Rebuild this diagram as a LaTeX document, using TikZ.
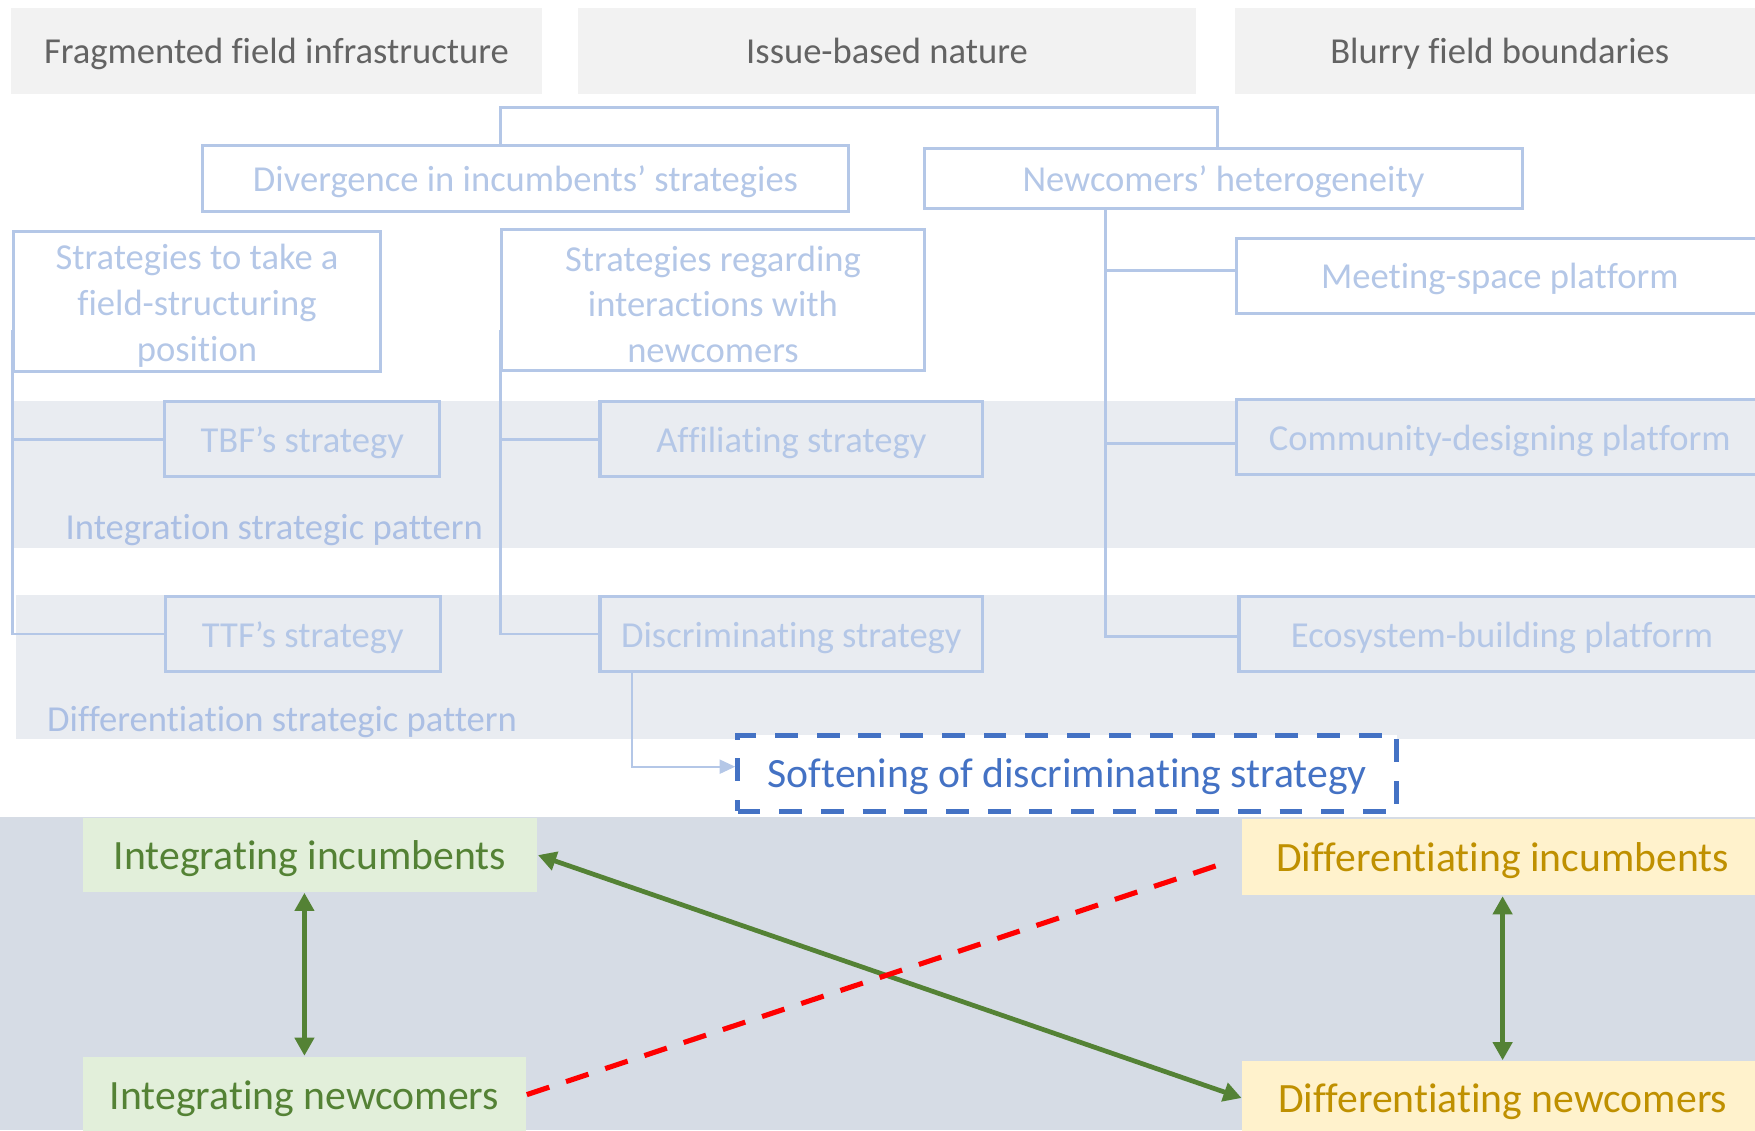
\documentclass[tikz,border=0pt]{standalone}
\usepackage{fontspec}
\setmainfont[Ligatures={NoCommon}]{Carlito}
\usepackage{tikz}
\usetikzlibrary{positioning}
\usetikzlibrary{arrows.meta}
\usepackage{xcolor}

\definecolor{headgray}{HTML}{F2F2F2}
\definecolor{headtext}{HTML}{636363}
\definecolor{paleblue}{HTML}{B4C7E7}
\definecolor{labelblue}{HTML}{ABBFE4}
\definecolor{bandgray}{HTML}{E9ECF1}
\definecolor{bottomgray}{HTML}{D6DCE5}
\definecolor{intfill}{HTML}{E2EFDA}
\definecolor{inttext}{HTML}{548235}
\definecolor{diffill}{HTML}{FFF2CC}
\definecolor{diftext}{HTML}{BF9000}
\definecolor{softblue}{HTML}{4472C4}
\definecolor{redline}{HTML}{FF0000}

\newcommand{\firstline}{\rule{0pt}{8.6pt}}

\begin{document}
\begin{tikzpicture}[x=0.1mm, y=-0.1mm,
headbox/.style={fill=headgray, text=headtext, inner sep=0pt, text height=6.6pt, text depth=0pt, font=\fontsize{9.3}{11.6}\selectfont},
multibox/.style={draw=paleblue, line width=0.8pt, text=paleblue, inner sep=0pt, align=center, font=\fontsize{9.3}{11.6}\selectfont},
strbox/.style={multibox, text height=6.6pt, text depth=0pt},
bandlabel/.style={text=labelblue, text height=6.6pt, text depth=0pt, font=\fontsize{9.3}{11.6}\selectfont},
link/.style={draw=paleblue, line width=0.7pt},
softlink/.style={draw=paleblue, line width=0.5pt, -{Triangle[length=4pt,width=3.6pt]}},
softbox/.style={draw=softblue, fill=white, line width=1.2pt, dash pattern=on 5.8pt off 4.8pt, text=softblue, inner sep=0pt, text height=7.4pt, text depth=0pt, font=\fontsize{10.6}{13}\selectfont},
intbox/.style={fill=intfill, text=inttext, inner sep=0pt, text height=7.4pt, text depth=0pt, font=\fontsize{10.6}{13}\selectfont},
difbox/.style={fill=diffill, text=diftext, inner sep=0pt, text height=7.4pt, text depth=0pt, font=\fontsize{10.6}{13}\selectfont},
greenarrow/.style={draw=inttext, line width=1.2pt, {Triangle[length=4.6pt,width=4.8pt]}-{Triangle[length=4.6pt,width=4.8pt]}},
redlink/.style={draw=redline, line width=1.3pt, dash pattern=on 6pt off 4.5pt}]

\useasboundingbox (0,0) rectangle (1568,1010);
\clip (0,0) rectangle (1568,1010);

% field conditions
\begin{scope}
{
\node[headbox, minimum width=47.4mm, minimum height=7.7mm] (frag) at (247,45.5) {Fragmented field infrastructure};
\node[headbox, minimum width=55.3mm, minimum height=7.7mm] (issue) at (792.5,45.5) {Issue-based nature};
\node[headbox, minimum width=47.4mm, minimum height=7.7mm] (blurry) at (1340,45.5) {Blurry field boundaries};
}
\end{scope}

% strategic patterns
\begin{scope}
{
\fill[bandgray] (12,358) rectangle (1568,490);
\fill[bandgray] (14,532) rectangle (1568,660);

\node[bandlabel] (intpat) at (245,470) {Integration strategic pattern};
\node[bandlabel] (difpat) at (252,642) {Differentiation strategic pattern};


\node[strbox, minimum width=57.7mm, minimum height=5.9mm] (diverg) at (469.5,159.5) {Divergence in incumbents’ strategies};
\node[strbox, minimum width=53.4mm, minimum height=5.3mm] (newc) at (1093,159.5) {Newcomers’ heterogeneity};

\node[multibox, minimum width=32.8mm, minimum height=12.5mm] (fieldpos) at (176,269.5) {\firstline Strategies to take a\\field-structuring\\position};
\node[multibox, minimum width=37.8mm, minimum height=12.6mm] (interact) at (637,268) {\firstline Strategies regarding\\interactions with\\newcomers};

\node[strbox, minimum width=24.6mm, minimum height=6.7mm] (tbf) at (270,392.5) {TBF’s strategy};
\node[strbox, minimum width=24.6mm, minimum height=6.7mm] (ttf) at (270.5,566.5) {TTF’s strategy};
\node[strbox, minimum width=34.2mm, minimum height=6.7mm] (affil) at (707,392.5) {Affiliating strategy};
\node[strbox, minimum width=34.2mm, minimum height=6.7mm] (discr) at (707,566.5) {Discriminating strategy};

\node[strbox, minimum width=47mm, minimum height=6.7mm] (meet) at (1340,246.5) {Meeting-space platform};
\node[strbox, minimum width=47mm, minimum height=6.7mm] (comm) at (1340,390.5) {Community-designing platform};
\node[strbox, minimum width=47mm, minimum height=6.7mm] (eco) at (1342,566.5) {Ecosystem-building platform};


\coordinate (jl) at (447,96);
\coordinate (jr) at (1088,96);
\draw[link] (diverg.north -| jl) -- (jl) -- (jr) -- (newc.north -| jr);

\coordinate (lt) at (11,295);
\draw[link] (lt) |- (tbf.west);
\draw[link] (lt) |- (ttf.west);

\coordinate (mt) at (447,295);
\draw[link] (mt) |- (affil.west);
\draw[link] (mt) |- (discr.west);

\coordinate (rt) at (988,186);
\draw[link] (rt) |- ([yshift=0.45mm]meet.west);
\draw[link] (rt) |- ([yshift=-0.55mm]comm.west);
\draw[link] (rt) |- ([yshift=-0.25mm]eco.west);


\node[softbox, minimum width=58.9mm, minimum height=6.8mm] (soft) at (953.5,691) {Softening of discriminating strategy};
\draw[softlink] ([xshift=3mm]discr.south west) |- ([yshift=0.6mm]soft.west);
}
\end{scope}

% incumbents and newcomers
\begin{scope}
{
\fill[bottomgray] (0,730) rectangle (1568,1010);

\node[intbox, minimum width=40.6mm, minimum height=6.6mm] (intinc) at (277,764) {Integrating incumbents};
\node[intbox, minimum width=39.6mm, minimum height=6.8mm] (intnew) at (272,978) {Integrating newcomers};
\node[difbox, minimum width=46.5mm, minimum height=6.8mm] (difinc) at (1342.5,766) {Differentiating incumbents};
\node[difbox, minimum width=46.5mm, minimum height=6.6mm] (difnew) at (1342.5,981) {Differentiating newcomers};

\draw[greenarrow] (intinc.south -| intnew.north) -- (intnew.north);
\draw[greenarrow] (difinc.south) -- (difnew.north);
\draw[greenarrow] (intinc.east) -- (difnew.west);
\draw[redlink, shorten >=3pt] (intnew.east) -- (difinc.west);
}
\end{scope}

\end{tikzpicture}
\end{document}
